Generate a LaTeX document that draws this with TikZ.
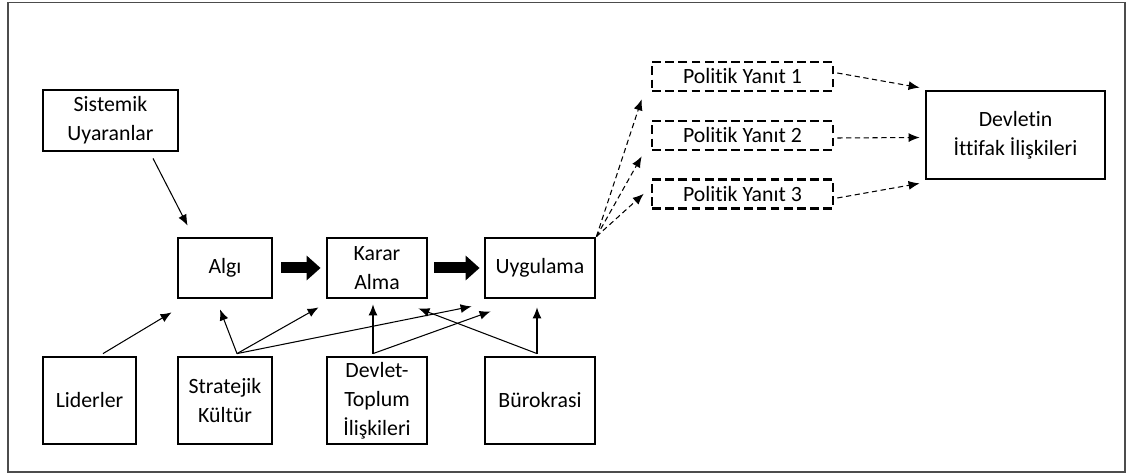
\documentclass[tikz,border=0pt]{standalone}
\usepackage{fontspec}
\setmainfont{Carlito}[Ligatures=NoCommon]
\usetikzlibrary{arrows.meta}

\tikzset{
  kutu/.style={draw, line width=1.6pt, align=center, inner sep=0pt},
  yanit/.style={draw, line width=1.5pt, dash pattern=on 5pt off 2.5pt,
    minimum width=3.62cm, minimum height=0.58cm, inner sep=0pt},
  ok/.style={-{Latex[length=2.2mm,width=1.8mm]}, line width=0.6pt},
  kesikok/.style={ok, dash pattern=on 3pt off 2pt},
  kalinok/.style={-{Triangle[length=0.28cm,width=0.48cm]}, line width=0.22cm},
}

\begin{document}
\begin{tikzpicture}[font=\fontsize{12.4}{16.4}\selectfont]

	\useasboundingbox (0,0) rectangle (22.54,9.50);
	\draw[gray!60!black, line width=1pt] (0.16,0.06) rectangle (22.50,9.45);

	% ust sira
	\node[kutu, minimum width=2.70cm, minimum height=1.22cm] (sis) at (2.21,7.09) {Sistemik\\Uyaranlar};
	\node[kutu, minimum width=1.88cm, minimum height=1.20cm] (algi) at (4.50,4.14) {Algı};
	\node[kutu, minimum width=2.00cm, minimum height=1.20cm] (karar) at (7.54,4.14) {Karar\\Alma};
	\node[kutu, minimum width=2.20cm, minimum height=1.20cm] (uyg) at (10.80,4.14) {Uygulama};

	% alt sira
	\node[kutu, minimum width=1.86cm, minimum height=1.74cm] (lid) at (1.79,1.49) {Liderler};
	\node[kutu, minimum width=1.88cm, minimum height=1.74cm] (str) at (4.50,1.49) {Stratejik\\Kültür};
	\node[kutu, minimum width=2.00cm, minimum height=1.74cm] (dev) at (7.54,1.49) {Devlet-\\Toplum\\İlişkileri};
	\node[kutu, minimum width=2.20cm, minimum height=1.74cm] (bur) at (10.80,1.49) {Bürokrasi};

	% politik yanitlar
	\node[yanit] (y1) at (14.85,7.97) {Politik Yanıt 1};
	\node[yanit] (y2) at (14.85,6.79) {Politik Yanıt 2};
	\node[yanit] (y3) at (14.85,5.62) {Politik Yanıt 3};
	\node[kutu, minimum width=3.58cm, minimum height=1.76cm] (itt) at (20.31,6.80) {Devletin\\İttifak İlişkileri};

	\draw[kalinok] ([xshift=0.16cm]algi.east) -- ([xshift=-0.10cm]karar.west);
	\draw[kalinok] ([xshift=0.12cm]karar.east) -- ([xshift=-0.08cm]uyg.west);

	\draw[ok] ([xshift=0.85cm,yshift=-0.12cm]sis.south) -- ([xshift=0.22cm,yshift=0.22cm]algi.north west);
	\draw[ok] ([xshift=0.27cm,yshift=0.04cm]lid.north) -- ([xshift=-0.10cm,yshift=-0.26cm]algi.south west);

	\draw[ok] ([xshift=0.24cm,yshift=0.04cm]str.north) -- ([xshift=-0.10cm,yshift=-0.20cm]algi.south);
	\draw[ok] ([xshift=0.24cm,yshift=0.04cm]str.north) -- ([xshift=-0.14cm,yshift=-0.16cm]karar.south west);
	\draw[ok] ([xshift=0.24cm,yshift=0.04cm]str.north) -- ([xshift=-0.24cm,yshift=-0.14cm]uyg.south west);

	\draw[ok] ([xshift=-0.08cm,yshift=0.04cm]dev.north) -- ([xshift=-0.08cm,yshift=-0.10cm]karar.south);
	\draw[ok] ([xshift=-0.08cm,yshift=0.04cm]dev.north) -- ([xshift=0.14cm,yshift=-0.24cm]uyg.south west);

	\draw[ok] ([xshift=-0.06cm,yshift=0.04cm]bur.north) -- ([xshift=-0.06cm,yshift=-0.16cm]uyg.south);
	\draw[ok] ([xshift=-0.06cm,yshift=0.04cm]bur.north) -- ([xshift=-0.20cm,yshift=-0.18cm]karar.south east);

	\foreach \dest/\dx/\dy in {y1/-0.18/-0.14, y2/-0.18/-0.10, y3/-0.14/0.32}
	\draw[kesikok] (uyg.north east) -- ([xshift=\dx cm,yshift=\dy cm]\dest.south west);

	\draw[kesikok] ([xshift=0.06cm,yshift=0.07cm]y1.east) -- ([xshift=-0.10cm,yshift=0.04cm]itt.north west);
	\draw[kesikok] ([xshift=0.06cm,yshift=-0.05cm]y2.east) -- ([xshift=-0.10cm,yshift=-0.05cm]itt.west);
	\draw[kesikok] ([xshift=0.06cm,yshift=-0.08cm]y3.east) -- ([xshift=-0.10cm,yshift=-0.06cm]itt.south west);

\end{tikzpicture}
\end{document}
